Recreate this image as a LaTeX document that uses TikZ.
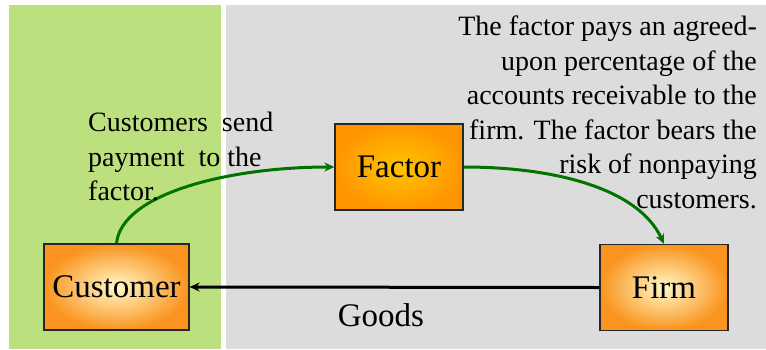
\documentclass[tikz,border=0pt]{standalone}
\usepackage{fontspec}
\setmainfont{Liberation Serif}
\newfontfamily\tnr{Liberation Serif}
\usetikzlibrary{arrows.meta,calc}
\definecolor{bggreen}{RGB}{187,224,125}
\definecolor{bggray}{RGB}{220,220,220}
\definecolor{edgeorange}{RGB}{250,148,30}
\definecolor{centerlight}{RGB}{255,248,200}
\definecolor{factorcenter}{RGB}{255,196,0}
\definecolor{factoredge}{RGB}{255,150,0}
\definecolor{arrowgreen}{RGB}{0,115,0}
\tikzset{
  lightbox/.style={draw=black!85, line width=1.2pt, inner color=centerlight, outer color=edgeorange,
     minimum width=145pt, minimum height=86pt, font=\tnr\fontsize{33}{38}\selectfont, inner sep=0pt},
  factorbox/.style={draw=black!85, line width=1.2pt, inner color=factorcenter, outer color=factoredge,
     minimum width=128pt, minimum height=86pt, font=\tnr\fontsize{33}{38}\selectfont, inner sep=0pt},
  greenarrow/.style={draw=arrowgreen, line width=3pt, -{Stealth[length=10pt,width=9pt]}},
  blackarrow/.style={draw=black, line width=3pt, -{Stealth[length=10pt,width=9pt]}},
  note/.style={font=\tnr\fontsize{28}{34.5}\selectfont, inner sep=0pt}
}
\begin{document}
\begin{tikzpicture}[x=1pt,y=-1pt]
\useasboundingbox (0,0) rectangle (766,349);
\fill[white] (0,0) rectangle (766,349);
\fill[bggreen] (9,5) rectangle (221,349);
\fill[bggray] (226,5) rectangle (766,349);

\node[lightbox] (customer) at (116.5,287) {Customer};
\node[factorbox] (factor) at (399,167) {Factor};
\node[lightbox, minimum width=128pt] (firm) at (664,287.5) {Firm};

\draw[greenarrow] (customer.north) .. controls ($(customer.north)+(5,-50)$) and ($(factor.west)+(-105,0)$) .. (factor.west);
\draw[greenarrow] (factor.east) .. controls ($(factor.east)+(90,0)$) and ($(firm.north)+(-26,-56)$) .. (firm.north);
\draw[blackarrow] (firm.west) -- (customer.east);

\node[note, anchor=north west, align=left] (paytext) at (88,112) {Customers\ \ send\\payment\ \ to the\\factor.};
\node[note, anchor=north east, align=right] (factortext) at (757,16) {The factor pays an agreed-\\upon\ percentage\ of the\\accounts receivable to the\\firm. The factor bears the\\risk of nonpaying\\customers.};
\node[font=\tnr\fontsize{33}{38}\selectfont, inner sep=0pt] (goods) at (381,315) {Goods};
\end{tikzpicture}
\end{document}
